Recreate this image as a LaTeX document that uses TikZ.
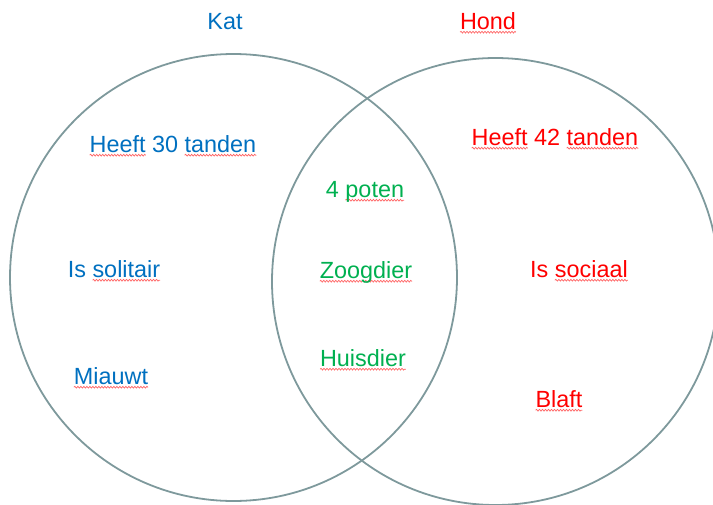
\documentclass[tikz,border=0pt]{standalone}
\usepackage{fontspec}
\setmainfont{Liberation Sans}
\usetikzlibrary{decorations.pathmorphing}
\definecolor{katblue}{RGB}{0,112,192}
\definecolor{hondred}{RGB}{255,0,0}
\definecolor{bothgreen}{RGB}{0,176,80}
\definecolor{ringgray}{RGB}{126,153,156}
\definecolor{sqred}{RGB}{255,100,100}
\tikzset{
  ring/.style={draw=ringgray, line width=1.8pt},
  lbl/.style={anchor=base, inner sep=0pt, font=\fontsize{23.4}{27}\selectfont},
  katlbl/.style={lbl, text=katblue},
  hondlbl/.style={lbl, text=hondred},
  bothlbl/.style={lbl, text=bothgreen},
  sqline/.style={draw=sqred, line width=0.7pt, decorate,
    decoration={snake, amplitude=0.9pt, segment length=3pt}}
}
\newcommand\sq[1]{\setbox0=\hbox{#1}\edef\sqw{\the\wd0}%
  \tikz[overlay,baseline=0pt]\path[sqline] (0pt,-3.2pt) -- (\sqw,-3.2pt);\box0\relax}
\begin{document}
\begin{tikzpicture}[x=1pt,y=-1pt]
\useasboundingbox (0,0) rectangle (713,504);
\clip (0,0) rectangle (713,504);
\draw[ring] (233.5,277.5) circle[radius=223.5pt];
\draw[ring] (495.5,281.5) circle[radius=223.5pt];
\node[katlbl] (kat) at (225,29) {Kat};
\node[hondlbl] (hond) at (488,29) {\sq{Hond}};
\node[katlbl] (k1) at (173,152) {\sq{Heeft} 30 \sq{tanden}};
\node[katlbl] (k2) at (114,277) {Is \sq{solitair}};
\node[katlbl] (k3) at (111,384) {\sq{Miauwt}};
\node[bothlbl] (b1) at (365,197) {4 \sq{poten}};
\node[bothlbl] (b2) at (366,278) {\sq{Zoogdier}};
\node[bothlbl] (b3) at (363,366) {\sq{Huisdier}};
\node[hondlbl] (h1) at (555,145) {\sq{Heeft} 42 \sq{tanden}};
\node[hondlbl] (h2) at (579,277) {Is \sq{sociaal}};
\node[hondlbl] (h3) at (559,407) {\sq{Blaft}};
\end{tikzpicture}
\end{document}
